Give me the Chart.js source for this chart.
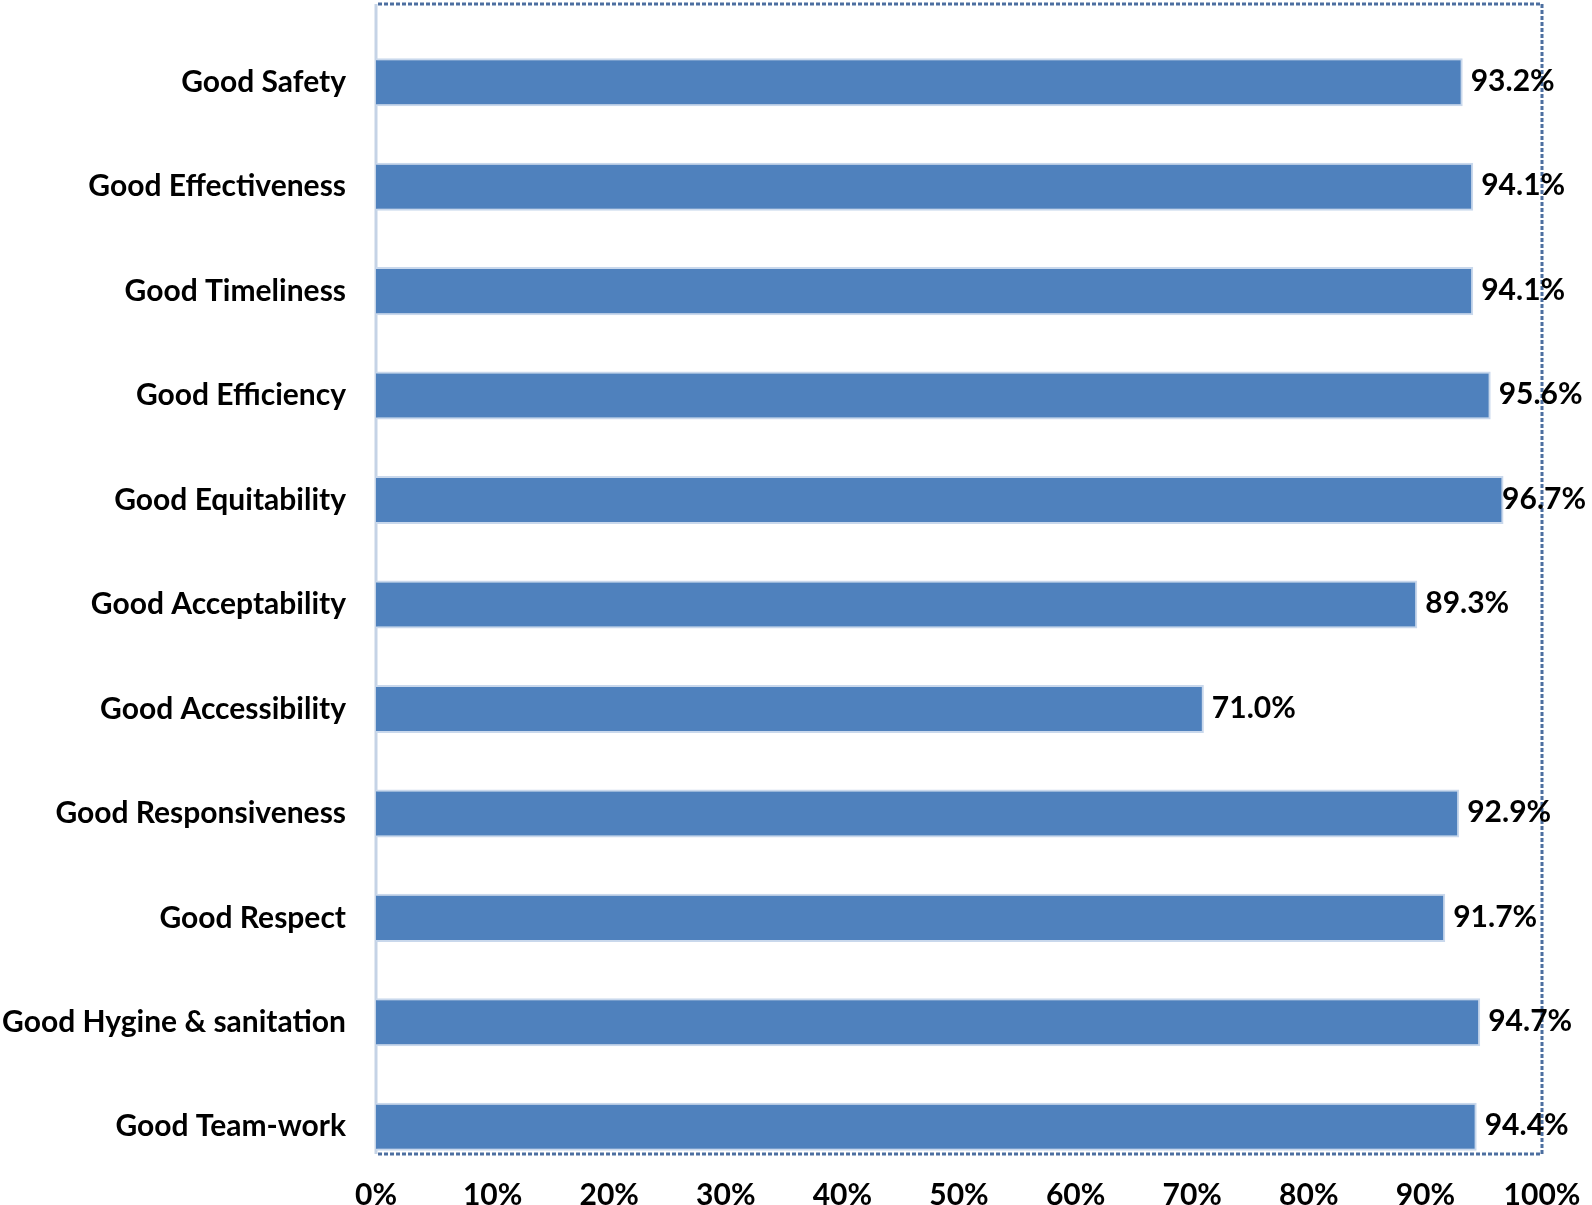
<!DOCTYPE html>
<html>
<head>
<meta charset="utf-8">
<script src="https://cdn.jsdelivr.net/npm/chart.js@4.4.0/dist/chart.umd.min.js"></script>
<style>
  html, body { margin: 0; padding: 0; background: #ffffff; }
  #wrap { width: 1592px; height: 1205px; position: relative; }
</style>
</head>
<body>
<div id="wrap"><canvas id="grafico"></canvas></div>
<script>
const categorias = ['Good Safety', 'Good Effectiveness', 'Good Timeliness', 'Good Efficiency', 'Good Equitability',
  'Good Acceptability', 'Good Accessibility', 'Good Responsiveness', 'Good Respect', 'Good Hygine & sanitation', 'Good Team-work'];
const valores = [93.2, 94.1, 94.1, 95.6, 96.7, 89.3, 71.0, 92.9, 91.7, 94.7, 94.4];
const ticksX = [0, 10, 20, 30, 40, 50, 60, 70, 80, 90, 100];

const fonte = 'Lato, "Open Sans", sans-serif';

// moldura pontilhada (a área de plotagem do original fica um pouco acima das barras)
const molduraPlugin = {
  id: 'moldura',
  beforeDatasetsDraw(chart) {
    const { ctx, chartArea: a } = chart;
    const topo = a.top - 26, base = a.bottom - 25;
    ctx.save();
    ctx.strokeStyle = '#4d6fa0';
    ctx.lineWidth = 3;
    ctx.setLineDash([4, 2]);
    ctx.beginPath();
    ctx.moveTo(a.left + 2, topo);
    ctx.lineTo(a.right, topo);
    ctx.lineTo(a.right, base);
    ctx.lineTo(a.left + 2, base);
    ctx.stroke();
    ctx.setLineDash([]);
    ctx.strokeStyle = '#c5d3e6';
    ctx.lineWidth = 3;
    ctx.beginPath();
    ctx.moveTo(a.left, topo);
    ctx.lineTo(a.left, base);
    ctx.stroke();
    ctx.restore();
  }
};

// rótulos de valor na ponta de cada barra
const rotulosPlugin = {
  id: 'rotulos',
  afterDatasetsDraw(chart) {
    const { ctx } = chart;
    const meta = chart.getDatasetMeta(0);
    ctx.save();
    ctx.fillStyle = '#000000';
    ctx.font = 'bold 30px ' + fonte;
    ctx.textAlign = 'left';
    ctx.textBaseline = 'middle';
    meta.data.forEach((bar, i) => {
      const txt = valores[i].toFixed(1) + '%';
      const w = ctx.measureText(txt).width;
      const x = Math.min(bar.x + 8, chart.width - w - 6);
      ctx.fillText(txt, x, bar.y - 1);
    });
    ctx.restore();
  }
};

const ctx = document.getElementById('grafico').getContext('2d');
new Chart(ctx, {
  type: 'bar',
  data: {
    labels: categorias,
    datasets: [{
      data: valores,
      backgroundColor: '#4f81bd',
      borderColor: '#c9d8ec',
      borderWidth: 2,
      borderSkipped: 'left',
      categoryPercentage: 1.0,
      barPercentage: 0.46
    }]
  },
  options: {
    indexAxis: 'y',
    responsive: true,
    maintainAspectRatio: false,
    animation: false,
    layout: { padding: { left: 0, right: 50, top: 30, bottom: 0 } },
    plugins: { legend: { display: false }, tooltip: { enabled: false } },
    scales: {
      x: {
        min: 0, max: 100,
        afterBuildTicks: (scale) => { scale.ticks = ticksX.map(v => ({ value: v })); },
        afterFit: (scale) => { scale.height = 26; scale.paddingLeft = 0; scale.paddingRight = 0; },
        grid: { display: false, drawTicks: false },
        border: { display: false },
        ticks: {
          color: '#000000',
          font: { family: fonte, size: 30, weight: 'bold' },
          padding: -2,
          callback: (v) => v + '%'
        }
      },
      y: {
        afterFit: (scale) => { scale.width = 376; scale.paddingTop = 0; scale.paddingBottom = 0; },
        grid: { display: false, drawTicks: false },
        border: { display: false },
        ticks: {
          color: '#000000',
          font: { family: fonte, size: 30, weight: 'bold' },
          padding: 30
        }
      }
    }
  },
  plugins: [molduraPlugin, rotulosPlugin]
});
</script>
</body>
</html>
